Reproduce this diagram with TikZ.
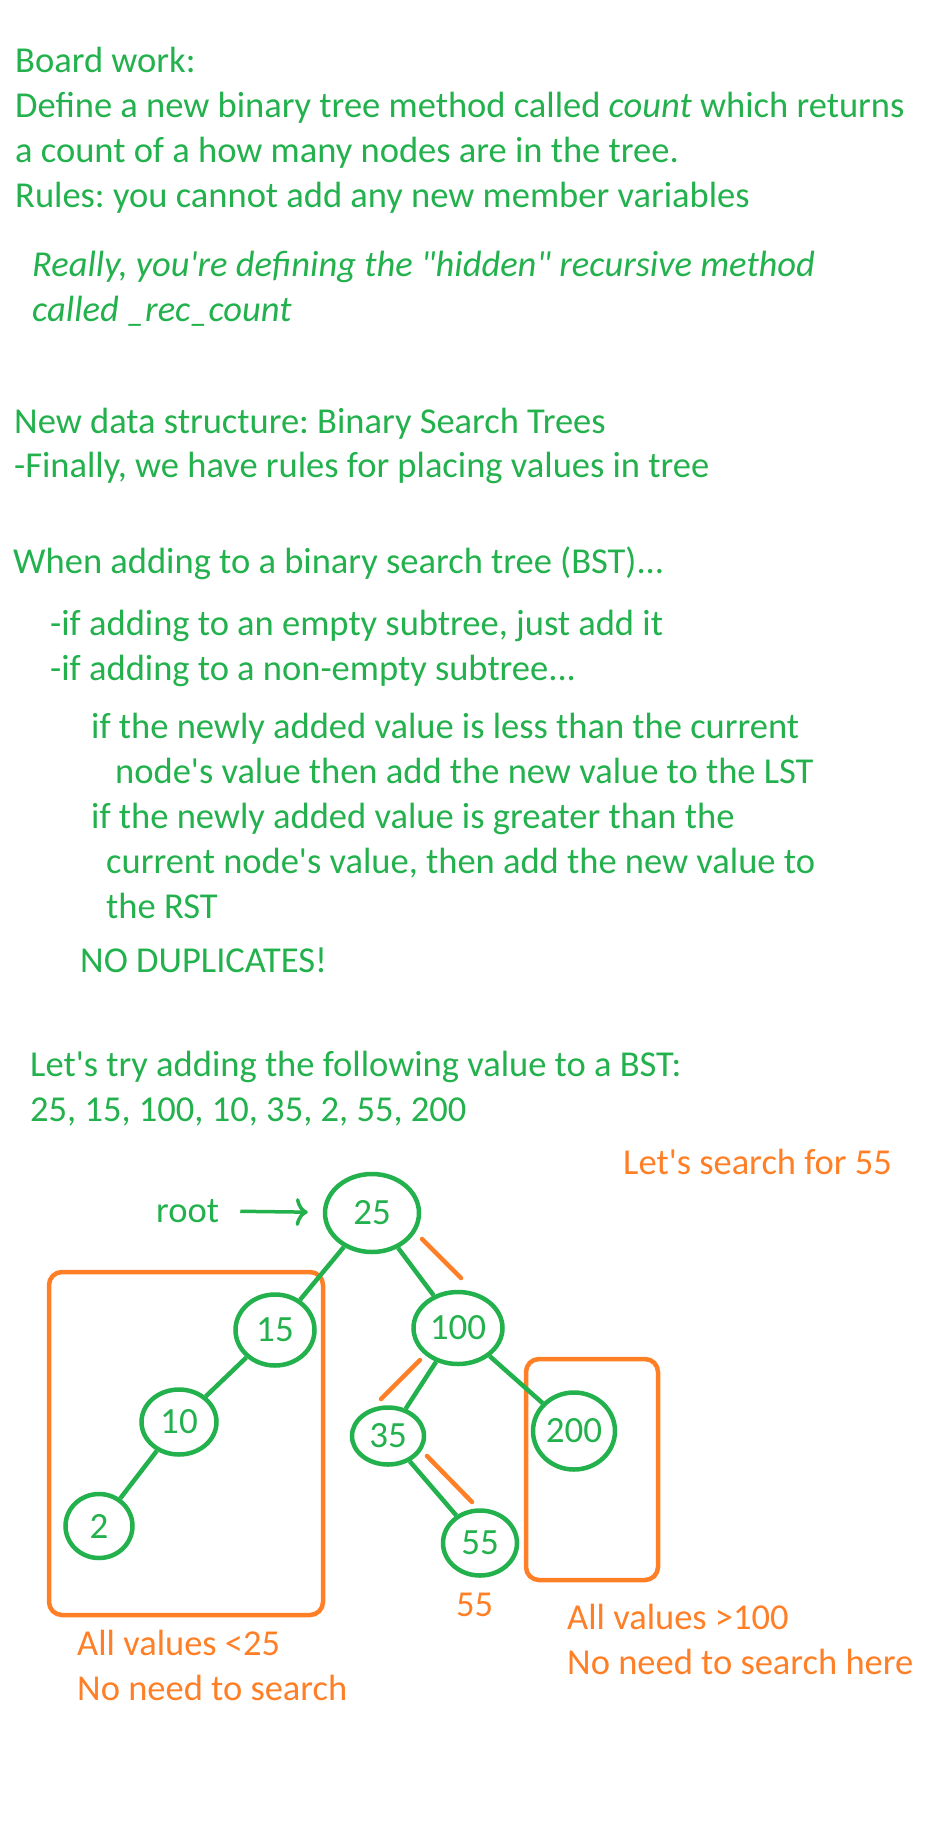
\documentclass[tikz,border=0pt]{standalone}
\usepackage{fontspec}
\setmainfont{Carlito}[Ligatures=TeXOff]
\usetikzlibrary{arrows.meta,shapes.geometric}
\definecolor{paintgreen}{HTML}{22B14C}
\definecolor{paintorange}{HTML}{FF7F27}
\frenchspacing

\begin{document}
\begin{tikzpicture}[x=1pt, y=-1pt,
  txt/.style={anchor=base west, inner sep=0pt, text=paintgreen, font=\fontsize{36.5}{45}\selectfont},
  txtit/.style={txt, font=\fontsize{36.5}{45}\selectfont\itshape},
  note/.style={txt, text=paintorange},
  bst/.style={ellipse, draw=paintgreen, line width=4.5pt, text=paintgreen, inner sep=0pt, font=\fontsize{37}{45}\selectfont},
  link/.style={draw=paintgreen, line width=4.5pt},
  hint/.style={draw=paintorange, line width=4.5pt, line cap=round},
  searchbox/.style={draw=paintorange, line width=4.5pt, rounded corners=13pt}]
  \useasboundingbox (0,0) rectangle (928,1824);
  \node [txt] (board) at (15,72) {Board work:};
  \node [txt] (define) at (15,117) {Define a new binary tree method called \textit{count} which returns};
  \node [txt] (howmany) at (15,162) {a count of a how many nodes are in the tree.};
  \node [txt] (rules) at (15,207) {Rules: you cannot add any new member variables};
  \node [txtit] (really) at (32,276) {Really, you're defining the "hidden" recursive method};
  \node [txtit] (called) at (32,321) {called \_rec\_count};
  \node [txt] (newds) at (14,433) {New data structure: Binary Search Trees};
  \node [txt] (finally) at (14,477) {-Finally, we have rules for placing values in tree};
  \node [txt] (whenadd) at (13,573) {When adding to a binary search tree (BST)...};
  \node [txt] (ifempty) at (50,635) {-if adding to an empty subtree, just add it};
  \node [txt] (ifnonempty) at (50,680) {-if adding to a non-empty subtree...};
  \node [txt] (lessA) at (91,738) {if the newly added value is less than the current};
  \node [txt] (lessB) at (115,783) {node's value then add the new value to the LST};
  \node [txt] (greatA) at (91,828) {if the newly added value is greater than the};
  \node [txt] (greatB) at (106,873) {current node's value, then add the new value to};
  \node [txt] (greatC) at (106,918) {the RST};
  \node [txt] (nodup) at (80,972) {NO DUPLICATES!};
  \node [txt] (tryline) at (30,1076) {Let's try adding the following value to a BST:};
  \node [txt] (values) at (30,1121) {25, 15, 100, 10, 35, 2, 55, 200};
  \node [note] (search) at (623,1174) {Let's search for 55};

  \draw [searchbox] (49,1272) rectangle (323,1615);
  \draw [searchbox] (526,1359) rectangle (658,1580);

  \node [bst, minimum width=94pt, minimum height=78pt] (n25) at (372,1213) {25};
  \node [bst, minimum width=79pt, minimum height=71pt] (n15) at (275,1330) {15};
  \node [bst, minimum width=89pt, minimum height=72pt] (n100) at (458,1328) {100};
  \node [bst, minimum width=75pt, minimum height=65pt] (n10) at (179,1422) {10};
  \node [bst, minimum width=72pt, minimum height=57pt] (n35) at (388,1436) {35};
  \node [bst, minimum width=82pt, minimum height=77pt] (n200) at (574,1431) {200};
  \node [bst, minimum width=67pt, minimum height=64pt] (n2) at (99,1526) {2};
  \node [bst, minimum width=74pt, minimum height=65pt] (n55) at (480,1543) {55};
  \draw [link] (n25) -- (n15);
  \draw [link] (n25) -- (n100);
  \draw [link] (n15) -- (n10);
  \draw [link] (n10) -- (n2);
  \draw [link] (n100) -- (n35);
  \draw [link] (n100) -- (n200);
  \draw [link] (n35) -- (n55);

  \node [txt] (root) at (156,1222) {root};
  \draw [draw=paintgreen, line width=3.5pt, -{Computer Modern Rightarrow[length=12pt,width=28pt]}, shorten <=21pt, shorten >=15pt] (root) -- (n25);

  \draw [hint] (422,1239) -- (461,1278);
  \draw [hint] (420,1360) -- (381,1399);
  \draw [hint] (427,1456) -- (472,1502);

  \node [note] (found) at (456,1616) {55};
  \node [note] (leftA) at (77,1655) {All values <25};
  \node [note] (leftB) at (77,1700) {No need to search};
  \node [note] (rightA) at (567,1629) {All values >100};
  \node [note] (rightB) at (567,1674) {No need to search here};
\end{tikzpicture}
\end{document}
